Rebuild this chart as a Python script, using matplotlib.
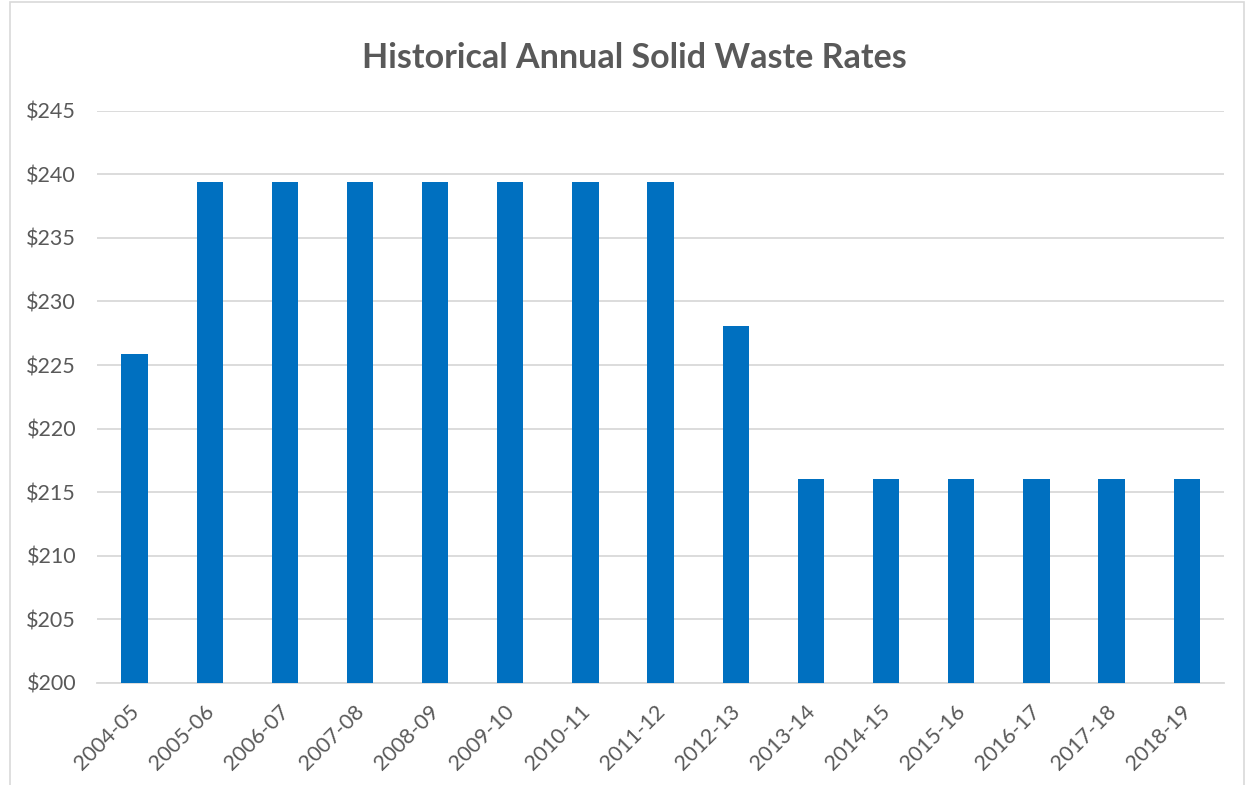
import matplotlib
matplotlib.use("Agg")
import matplotlib.pyplot as plt
from matplotlib.patches import Rectangle
from matplotlib.ticker import FuncFormatter
from matplotlib.transforms import ScaledTranslation

# fiscal years and annual rate ($)
years = ["2004-05", "2005-06", "2006-07", "2007-08", "2008-09", "2009-10",
         "2010-11", "2011-12", "2012-13", "2013-14", "2014-15", "2015-16",
         "2016-17", "2017-18", "2018-19"]
rates = [225.9, 239.4, 239.4, 239.4, 239.4, 239.4, 239.4, 239.4,
         228.05, 216.0, 216.0, 216.0, 216.0, 216.0, 216.0]

y_ticks = [200, 205, 210, 215, 220, 225, 230, 235, 240, 245]

plt.rcParams['font.family'] = ['Lato', 'DejaVu Sans']
grey = "#595959"

fig = plt.figure(figsize=(12.48, 7.85), dpi=100)
ax = fig.add_axes([0.0777, 0.130, 0.981 - 0.0777, 0.859 - 0.130])

x = list(range(len(years)))
ax.bar(x, rates, width=0.35, color="#0070C0", zorder=3)

ax.set_xlim(-0.5, len(years) - 0.5)
ax.set_ylim(200, 245)
ax.set_yticks(y_ticks)
ax.yaxis.set_major_formatter(FuncFormatter(lambda v, p: "${:.0f}".format(v)))
ax.set_xticks(x)
ax.set_xticklabels(years, rotation=45, ha="right", rotation_mode="anchor")

ax.grid(axis="y", color="#D9D9D9", linewidth=1.3, zorder=0)
for s in ["top", "right", "left"]:
    ax.spines[s].set_visible(False)
ax.spines["bottom"].set_color("#D9D9D9")
ax.spines["bottom"].set_linewidth(1.3)
ax.tick_params(axis="both", length=0, labelsize=15.5, colors=grey)
ax.tick_params(axis="y", pad=15)
ax.tick_params(axis="x", pad=6)

# excel puts the rotated labels a bit right of / below the tick
shift = ScaledTranslation(-6 / 100, -10 / 100, fig.dpi_scale_trans)
for lbl in ax.get_xticklabels():
    lbl.set_transform(lbl.get_transform() + shift)

fig.text(0.508, 0.926, "Historical Annual Solid Waste Rates", ha="center",
         va="center", fontsize=24.5, fontweight="bold", color=grey)

# chart frame
fig.patches.append(Rectangle((10 / 1248, -0.01), 1234 / 1248, 1.0 - 2 / 785 + 0.01,
                             transform=fig.transFigure, fill=False,
                             edgecolor="#D9D9D9", linewidth=1.2))

fig.savefig("out.png", dpi=100)
